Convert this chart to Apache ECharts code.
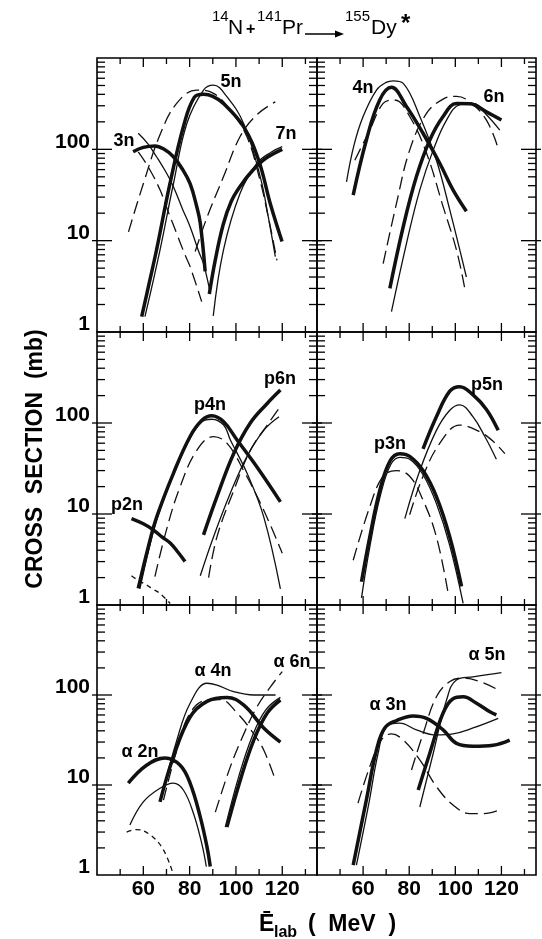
<!DOCTYPE html>
<html>
<head>
<meta charset="utf-8">
<script src="https://cdn.jsdelivr.net/npm/echarts@6/dist/echarts.min.js"></script>
<style>
html,body{margin:0;padding:0;background:#fff;}
#chart{width:542px;height:939px;}
</style>
</head>
<body>
<div id="chart"></div>
<script>
// ---------- axis / tick data ----------
const xTickLabels = [60, 80, 100, 120];
const xMinorTicks = [50, 70, 90, 110, 130];
const xMajorTicks = [60, 80, 100, 120];
const yTickLabels = [1, 10, 100];
const yMajorTicks = [10, 100];
const yMinorTicks = [2,3,4,5,6,7,8,9,20,30,40,50,60,70,80,90,200,300,400,500,600,700,800,900];

// ---------- panel 1 : 3n, 5n, 7n ----------
const n3Thick = [[55.6,94],[60,105],[65,109],[69,100],[73,83],[77,60],[80.2,42],[83,24],[84.6,15.5],[86.7,4.6]];
const n3Thin  = [[57.8,150],[62,115],[65.7,83],[70,55],[73,39],[77,22],[80.2,14.2],[84,7.5],[86,5.6],[89,2.6]];
const n3Dash  = [[57.8,94],[62,65],[67.2,36],[71,20],[74.4,12],[78,7],[80.2,5.2],[85.2,2.15]];
const n5Thick = [[59.3,1.47],[62.5,3.4],[65.7,7.9],[71.5,42],[77.3,177],[82,370],[86,400],[90,380],[94.6,318],[103.3,177],[109.8,76],[114.9,25],[119.9,9.8]];
const n5Thin  = [[60.7,1.47],[67.2,7.9],[73,42],[78.8,192],[86,446],[90.3,505],[96,380],[103.3,192],[110.5,50],[114,18],[117,6.7]];
const n5Dash  = [[53.6,12.5],[60,42],[67.2,144],[74.4,318],[83,446],[90.3,410],[97.5,270],[104.7,138],[110,50],[114,18],[117.7,6.1]];
const n7Thick = [[88.5,2.6],[91,6],[94.5,15],[98,27],[102,40],[107,58],[113,80],[120,100]];
const n7Thin  = [[90.2,1.5],[94.6,7.9],[101.8,33],[109,70],[115.5,94],[120,107]];
const n7Dash  = [[82.4,7.6],[87.5,18],[94.6,50],[101.8,138],[109,239],[117,331]];

// ---------- panel 2 : 4n, 6n ----------
const n4Thin  = [[52.8,44],[56,110],[60,229],[65.8,446],[70,540],[73,562],[77.4,527],[84.6,229],[91.8,76],[97.6,21.7],[104.8,4.0]];
const n4Thick = [[55.7,31.6],[61.4,126],[67.2,347],[72.3,478],[78.8,295],[86,150],[93.3,70],[99,36],[104.8,21]];
const n4Dash  = [[56.4,76],[62.9,162],[68.7,318],[73.7,347],[80.2,229],[87.5,91],[94.7,23.6],[100.5,7.9],[104,3.1]];
const n6Dash  = [[68.7,5.6],[74.5,25.7],[80.2,98],[87.5,247],[94.7,355],[100.5,380],[106.3,331],[113.5,209],[118.6,102]];
const n6Thick = [[71.6,3.0],[77.4,14.2],[83.1,50],[88.9,126],[94.7,229],[100.5,318],[106.3,316],[113.5,257],[120,209]];
const n6Thin  = [[72.3,1.67],[78.8,9.3],[84.6,36],[90.4,98],[96.2,209],[102,309],[107.7,318],[113.5,239],[119.3,162]];

// ---------- panel 3 : p2n, p4n, p6n ----------
const p2nThick = [[54.9,8.9],[60,7.8],[64.3,6.7],[68,5.6],[71.6,4.8],[75,3.8],[78,3.0]];
const p2nDash  = [[54.9,2.1],[58,1.85],[61.4,1.66],[64,1.5],[67.2,1.34],[71.6,1.04]];
const p4nThick = [[57.8,1.52],[62.2,4.4],[65.8,9.3],[73,28],[80.2,71],[85.3,107],[89.6,120],[94.7,103],[100.5,65],[109,33],[119.2,13.6]];
const p4nThin  = [[58.5,1.5],[62.5,4.2],[66,9],[73,27],[80.2,68],[85.3,103],[89.6,110],[94.7,95],[97.6,65],[104.8,28],[112,9.3],[119.2,1.5]];
const p4nDash  = [[65,2.05],[70,6.7],[75.9,20],[83.1,50],[90.3,71],[96.1,60],[103.3,30],[112,11],[120,3.7]];
const p6nThick = [[86,5.9],[91.8,15.5],[99,46],[106.2,100],[113.5,164],[119.2,230]];
const p6nDash  = [[88.2,2.0],[91.8,5.6],[99,18],[106.2,50],[113.5,95],[118.6,145]];
const p6nThin  = [[84.6,2.1],[90.3,5.6],[97.6,17],[104.8,43],[112,83],[118.6,117]];

// ---------- panel 4 : p3n, p5n ----------
const p3nThick = [[59.3,1.8],[62.9,5.6],[67.2,18],[71.6,38],[75.9,46],[80.2,43],[86,30],[91.8,15.5],[97.6,5.6],[102.7,1.6]];
const p3nThin  = [[59.3,1.2],[63,4.5],[67.5,16],[72,35],[76,42],[80.2,40],[86,27],[91.8,13],[97.6,4.5],[103.4,1.04]];
const p3nDash  = [[55.7,3.1],[62.9,12],[68.7,26],[74.5,30],[80.2,26],[86,14.2],[91.8,5.6],[96.9,1.34]];
const p5nThick = [[86,52],[91.8,117],[97.6,224],[101.9,251],[107.7,204],[113.5,141],[118.6,83]];
const p5nThin  = [[78.1,8.9],[84.6,30],[91.8,83],[97.6,138],[101.9,158],[107.7,117],[112.8,71],[117.8,40]];
const p5nDash  = [[80.2,9.8],[86,26],[93.3,60],[101.9,95],[110.6,80],[116.4,63],[121.5,46]];

// ---------- panel 5 : a2n, a4n, a6n ----------
const a2nThick = [[53.5,10.5],[61.4,16.6],[69.4,20],[75.9,16.6],[80.2,10.5],[84.6,4.4],[87.5,2.05],[88.9,1.24]];
const a2nThin  = [[54.2,3.6],[60,6.5],[67.2,9.2],[73,10.5],[77.3,8.8],[81.7,4.8],[85.3,2.2],[87.2,1.24]];
const a2nDash  = [[52.8,3.0],[57.1,3.2],[62.9,2.8],[68.7,1.9],[73,1.0]];
const a4nThick = [[67.2,6.5],[73,20.6],[80.2,57],[87.5,85],[96.1,94],[103.4,77],[112,43],[119.2,30]];
const a4nThin  = [[67.9,7.4],[74.5,31.6],[80.2,81],[87.5,135],[91.8,129],[99,109],[107.7,100],[117.1,100]];
const a4nDash  = [[68.7,6.8],[74.5,24.5],[80.2,63],[87.5,88],[93.2,89],[100.5,63],[107.7,37],[112,24.5],[117,11.4]];
const a6nDash  = [[91.1,5.0],[97.6,16],[103.4,37],[109.1,74],[114.9,123],[120,182]];
const a6nThick = [[96.1,3.4],[101.9,11.4],[107.7,31.6],[113.5,63],[119.2,88]];
const a6nThin  = [[95.4,3.4],[101.2,12.4],[107,34.6],[112.8,68],[119.2,94]];

// ---------- panel 6 : a3n, a5n ----------
const a3nThick = [[55.7,1.29],[61.4,6.8],[65.8,24.5],[69.4,43],[74.5,52],[81.7,58.5],[87.5,55],[94.7,41],[100.5,29],[107.7,27],[116.4,27.7],[123.6,31.6]];
const a3nThin  = [[57.1,1.29],[62.2,5.7],[66.5,22.4],[70.1,44.6],[75.9,48.6],[83.1,41],[91.8,36],[99,37],[107.7,43],[118.6,55]];
const a3nDash  = [[57.8,6.3],[62.9,16],[67.9,31.6],[72.3,37],[77.4,31.6],[84.6,19],[91.8,9.6],[99,6.0],[106.3,4.8],[112,4.8],[119.3,5.3]];
const a5nThick = [[83.9,8.8],[88.9,22.4],[94.7,63],[99,91],[103.4,95.5],[109.2,81],[115,65],[117.8,60]];
const a5nThin  = [[84.6,5.7],[90.4,22.4],[96.2,88],[100.5,147],[107.7,159],[120,177]];
const a5nDash  = [[81,14.7],[86,37],[91.8,95.5],[97.6,141],[103.4,154],[110.6,141],[118.6,114]];

// ---------- chart construction ----------
const X_MIN = 40, X_MAX = 135, Y_MIN = 1, Y_MAX = 1000;
const FONT = '"Liberation Sans", Arial, sans-serif';

const grids = [
  {left: 97,  top: 58,  width: 220, height: 274},
  {left: 317, top: 58,  width: 219, height: 274},
  {left: 97,  top: 332, width: 220, height: 273},
  {left: 317, top: 332, width: 219, height: 273},
  {left: 97,  top: 605, width: 220, height: 270},
  {left: 317, top: 605, width: 219, height: 270}
].map(g => Object.assign(g, {show: true, borderColor: '#000', borderWidth: 1.6, backgroundColor: 'transparent'}));

const xAxes = grids.map((g, i) => ({
  type: 'value', gridIndex: i, min: X_MIN, max: X_MAX, interval: 10,
  axisLine: {show: false}, axisTick: {show: false}, splitLine: {show: false},
  axisLabel: {
    show: i >= 4, margin: 7, color: '#000', fontSize: 21, fontWeight: 'bold', fontFamily: FONT, lineHeight: 15,
    formatter: v => xTickLabels.includes(v) ? String(v) : ''
  }
}));

const yAxes = grids.map((g, i) => ({
  type: 'log', logBase: 10, gridIndex: i, min: Y_MIN, max: Y_MAX,
  axisLine: {show: false}, axisTick: {show: false}, splitLine: {show: false},
  axisLabel: {
    show: i % 2 === 0, margin: 7, color: '#000', fontSize: 21, fontWeight: 'bold', fontFamily: FONT,
    verticalAlign: 'bottom', lineHeight: 15,
    formatter: v => yTickLabels.includes(Math.round(v)) ? String(Math.round(v)) : ''
  }
}));

const tickData = []
  .concat(xMinorTicks.map(v => [v, 1, 0]))
  .concat(xMajorTicks.map(v => [v, 1, 1]))
  .concat(yMinorTicks.map(v => [X_MIN, v, 2]))
  .concat(yMajorTicks.map(v => [X_MIN, v, 3]));

function tickRender(params, api) {
  const kind = api.value(2);
  const segs = [];
  if (kind < 2) {
    const v = api.value(0);
    const len = kind === 1 ? 9 : 6;
    const b = api.coord([v, Y_MIN]), t = api.coord([v, Y_MAX]);
    segs.push([b[0], b[1], b[0], b[1] - len]);
    segs.push([t[0], t[1], t[0], t[1] + len]);
  } else {
    const v = api.value(1);
    const inLen = kind === 3 ? 15 : 8, outLen = kind === 3 ? 5 : 0;
    const l = api.coord([X_MIN, v]), r = api.coord([X_MAX, v]);
    segs.push([l[0] - outLen, l[1], l[0] + inLen, l[1]]);
    segs.push([r[0] - inLen, r[1], r[0] + outLen, r[1]]);
  }
  return {
    type: 'group',
    children: segs.map(s => ({
      type: 'line', shape: {x1: s[0], y1: s[1], x2: s[2], y2: s[3]},
      style: {stroke: '#000', lineWidth: 1.3}
    }))
  };
}

const styles = {
  thick: {color: '#111', width: 3.5},
  thin:  {color: '#111', width: 1.3},
  dash:  {color: '#111', width: 1.3, type: [13, 6]},
  sdash: {color: '#111', width: 1.3, type: [5, 4]}
};

const curves = [
  [n3Thick, 0, 'thick'], [n3Thin, 0, 'thin'], [n3Dash, 0, 'dash'],
  [n5Thick, 0, 'thick'], [n5Thin, 0, 'thin'], [n5Dash, 0, 'dash'],
  [n7Thick, 0, 'thick'], [n7Thin, 0, 'thin'], [n7Dash, 0, 'dash'],
  [n4Thin, 1, 'thin'], [n4Thick, 1, 'thick'], [n4Dash, 1, 'dash'],
  [n6Dash, 1, 'dash'], [n6Thick, 1, 'thick'], [n6Thin, 1, 'thin'],
  [p2nThick, 2, 'thick'], [p2nDash, 2, 'sdash'],
  [p4nThick, 2, 'thick'], [p4nThin, 2, 'thin'], [p4nDash, 2, 'dash'],
  [p6nThick, 2, 'thick'], [p6nDash, 2, 'dash'], [p6nThin, 2, 'thin'],
  [p3nThick, 3, 'thick'], [p3nThin, 3, 'thin'], [p3nDash, 3, 'dash'],
  [p5nThick, 3, 'thick'], [p5nThin, 3, 'thin'], [p5nDash, 3, 'dash'],
  [a2nThick, 4, 'thick'], [a2nThin, 4, 'thin'], [a2nDash, 4, 'sdash'],
  [a4nThick, 4, 'thick'], [a4nThin, 4, 'thin'], [a4nDash, 4, 'dash'],
  [a6nDash, 4, 'dash'], [a6nThick, 4, 'thick'], [a6nThin, 4, 'thin'],
  [a3nThick, 5, 'thick'], [a3nThin, 5, 'thin'], [a3nDash, 5, 'dash'],
  [a5nThick, 5, 'thick'], [a5nThin, 5, 'thin'], [a5nDash, 5, 'dash']
];

const series = curves.map(c => ({
  type: 'line', xAxisIndex: c[1], yAxisIndex: c[1], data: c[0],
  smooth: 0.4, showSymbol: false, symbol: 'none', silent: true,
  lineStyle: styles[c[2]]
})).concat(grids.map((g, i) => ({
  type: 'custom', xAxisIndex: i, yAxisIndex: i, data: tickData,
  renderItem: tickRender, clip: false, silent: true, z: 5
})));

function txt(text, x, y, size, opts) {
  return Object.assign({
    type: 'text', x: x, y: y, silent: true, z: 100,
    style: Object.assign({
      text: text, fill: '#000', fontSize: size, fontFamily: FONT,
      textAlign: 'center', textVerticalAlign: 'middle', align: 'center', verticalAlign: 'middle'
    }, opts || {})
  });
}
const L = {textAlign: 'left', align: 'left'};
const B = {fontWeight: 'bold'};
const LB = Object.assign({}, L, B);

const graphic = [
  // title
  txt('14', 212, 17, 15, L),
  txt('N', 228, 28.5, 21, L),
  txt('+', 246, 30, 16, LB),
  txt('141', 257, 17, 15, L),
  txt('Pr', 282, 28.5, 21, L),
  {type: 'line', shape: {x1: 305, y1: 34, x2: 341, y2: 34}, style: {stroke: '#000', lineWidth: 1.6}},
  {type: 'polygon', shape: {points: [[335, 30.5], [344, 34], [335, 37.5]]}, style: {fill: '#000'}},
  txt('155', 345, 17, 15, L),
  txt('Dy', 371, 28.5, 21, L),
  txt('*', 401, 24, 24, LB),
  // axis titles
  Object.assign(txt('CROSS  SECTION  (mb)', 36, 459, 23, B), {rotation: Math.PI / 2}),
  txt('Ē', 259, 925, 23, LB),
  txt('lab', 274, 933, 16, LB),
  txt('(  MeV  )', 352, 925, 23, B),
  // curve labels
  txt('3n', 124, 141, 18, B), txt('5n', 231, 82, 18, B), txt('7n', 286, 134, 18, B),
  txt('4n', 363, 88, 18, B), txt('6n', 494, 97, 18, B),
  txt('p2n', 127, 505, 18, B), txt('p4n', 210, 405, 18, B), txt('p6n', 280, 379, 18, B),
  txt('p3n', 390, 444, 18, B), txt('p5n', 487, 385, 18, B),
  txt('α 2n', 140, 752, 18, B), txt('α 4n', 213, 671, 18, B), txt('α 6n', 292, 662, 18, B),
  txt('α 3n', 388, 705, 18, B), txt('α 5n', 487, 655, 18, B)
];

const chart = echarts.init(document.getElementById('chart'), null, {renderer: 'canvas'});
chart.setOption({
  animation: false,
  backgroundColor: '#fff',
  grid: grids, xAxis: xAxes, yAxis: yAxes,
  series: series,
  graphic: graphic
});
</script>
</body>
</html>
